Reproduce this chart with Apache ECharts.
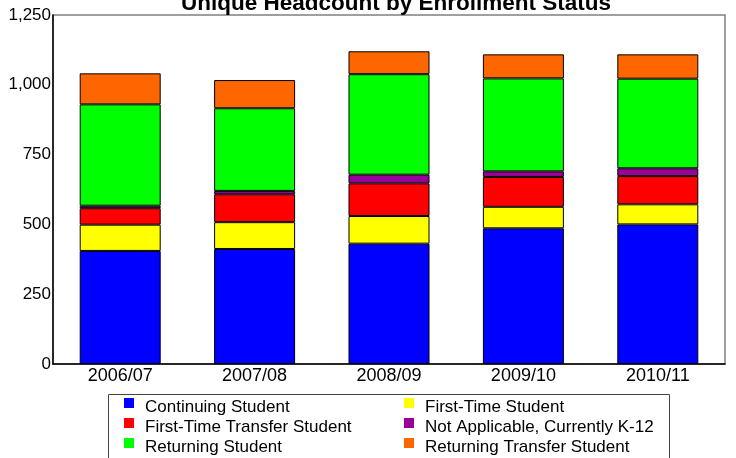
<!DOCTYPE html>
<html>
<head>
<meta charset="utf-8">
<script src="https://cdn.jsdelivr.net/npm/echarts@6/dist/echarts.min.js"></script>
<style>
  html, body { margin: 0; padding: 0; background: #fff; }
  #chart_wrap { width: 736px; height: 458px; }
</style>
</head>
<body>
<div id="chart_wrap"></div>
<script>
var years = ['2006/07', '2007/08', '2008/09', '2009/10', '2010/11'];
var yTicks = [0, 250, 500, 750, 1000, 1250];

var continuing = [405, 412, 431, 486, 500];
var firstTime = [94, 96, 99, 77, 72];
var firstTimeTransfer = [59, 100, 117, 107, 101];
var notApplicable = [9, 12, 31, 20, 28];
var returning = [363, 296, 360, 333, 321];
var returningTransfer = [111, 101, 82, 86, 87];

var names = ['Continuing Student', 'First-Time Student', 'First-Time Transfer Student',
    'Not Applicable, Currently K-12', 'Returning Student', 'Returning Transfer Student'];
var colors = ['#0000ff', '#ffff00', '#ff0000', '#990099', '#00ff00', '#ff6600'];
var values = [continuing, firstTime, firstTimeTransfer, notApplicable, returning, returningTransfer];

var chart = echarts.init(document.getElementById('chart_wrap'));

var series = [];
for (var i = 0; i < names.length; i++) {
    series.push({
        name: names[i],
        type: 'bar',
        stack: 'total',
        barWidth: 81,
        data: values[i],
        itemStyle: {
            color: colors[i],
            borderColor: '#000',
            borderWidth: 1
        },
        emphasis: { disabled: true }
    });
}

// square sits at the top of the icon box so the label lands a bit lower
var legendIcon = 'path://M0,0h10v10h-10z M0,17.9h0.1v0.1h-0.1z';

var legendText = {
    fontFamily: 'Liberation Sans, Arial, sans-serif',
    fontSize: 17,
    color: '#000',
    padding: [0, 0, 0, 6]
};

var option = {
    backgroundColor: '#fff',
    animation: false,
    color: colors,
    title: {
        text: 'Unique Headcount by Enrollment Status',
        left: 181,
        top: -8,
        padding: 0,
        textStyle: {
            fontFamily: 'Liberation Sans, Arial, sans-serif',
            fontSize: 22.5,
            fontWeight: 'bold',
            color: '#000'
        }
    },
    legend: [{
        orient: 'vertical',
        left: 124,
        top: 398,
        padding: 0,
        itemWidth: 10,
        itemHeight: 18,
        itemGap: 2,
        icon: legendIcon,
        itemStyle: { borderWidth: 0 },
        selectedMode: false,
        data: [names[0], names[2], names[4]],
        textStyle: legendText
    }, {
        orient: 'vertical',
        left: 404,
        top: 398,
        padding: 0,
        itemWidth: 10,
        itemHeight: 18,
        itemGap: 2,
        icon: legendIcon,
        itemStyle: { borderWidth: 0 },
        selectedMode: false,
        data: [names[1], names[3], names[5]],
        textStyle: legendText
    }],
    graphic: [{
        type: 'rect',
        shape: { x: 108.5, y: 394.5, width: 561, height: 70 },
        style: { fill: 'none', stroke: '#444', lineWidth: 1 },
        z: -1
    }],
    grid: {
        left: 53,
        right: 11,
        top: 15,
        bottom: 94,
        show: true,
        borderColor: '#808080',
        borderWidth: 1.5,
        backgroundColor: 'transparent'
    },
    xAxis: {
        type: 'category',
        data: years,
        axisLine: { lineStyle: { color: '#000', width: 1.5 } },
        axisTick: { show: false },
        axisLabel: {
            margin: 3,
            fontFamily: 'Liberation Sans, Arial, sans-serif',
            fontSize: 18,
            color: '#000'
        }
    },
    yAxis: {
        type: 'value',
        min: yTicks[0],
        max: yTicks[yTicks.length - 1],
        interval: 250,
        axisLine: { show: true, lineStyle: { color: '#000', width: 1.5 } },
        axisTick: { show: false },
        splitLine: { show: false },
        axisLabel: {
            margin: 2,
            fontFamily: 'Liberation Sans, Arial, sans-serif',
            fontSize: 17,
            color: '#000',
            formatter: function (v) {
                return v.toLocaleString('en-US');
            }
        }
    },
    series: series
};

chart.setOption(option);
</script>
</body>
</html>
